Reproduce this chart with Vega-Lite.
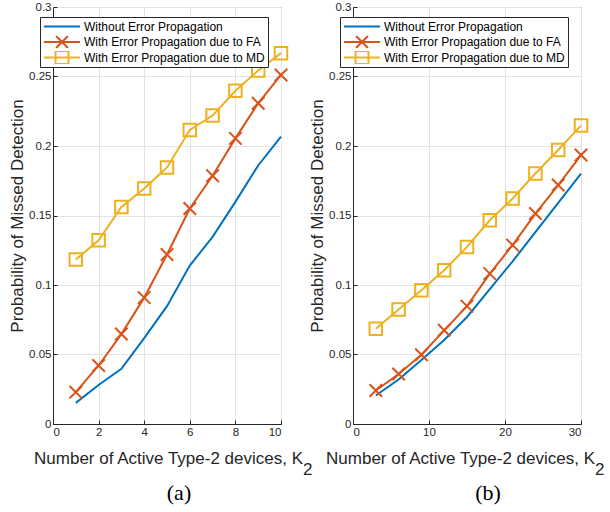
{
  "$schema": "https://vega.github.io/schema/vega-lite/v6.json",
  "padding": {"left": 8, "top": 0, "right": 0, "bottom": 0},
  "background": "white",
  "spacing": 72,
  "bounds": "flush",
  "datasets": {
    "pts": [
      {"panel": "a", "k": 1, "p": 0.0152, "series": "Without Error Propagation"},
      {"panel": "a", "k": 2, "p": 0.0281, "series": "Without Error Propagation"},
      {"panel": "a", "k": 3, "p": 0.0397, "series": "Without Error Propagation"},
      {"panel": "a", "k": 4, "p": 0.0618, "series": "Without Error Propagation"},
      {"panel": "a", "k": 5, "p": 0.0848, "series": "Without Error Propagation"},
      {"panel": "a", "k": 6, "p": 0.114, "series": "Without Error Propagation"},
      {"panel": "a", "k": 7, "p": 0.1346, "series": "Without Error Propagation"},
      {"panel": "a", "k": 8, "p": 0.1598, "series": "Without Error Propagation"},
      {"panel": "a", "k": 9, "p": 0.186, "series": "Without Error Propagation"},
      {"panel": "a", "k": 10, "p": 0.2067, "series": "Without Error Propagation"},
      {"panel": "a", "k": 1, "p": 0.0229, "series": "With Error Propagation due to FA"},
      {"panel": "a", "k": 2, "p": 0.0421, "series": "With Error Propagation due to FA"},
      {"panel": "a", "k": 3, "p": 0.0647, "series": "With Error Propagation due to FA"},
      {"panel": "a", "k": 4, "p": 0.0909, "series": "With Error Propagation due to FA"},
      {"panel": "a", "k": 5, "p": 0.1219, "series": "With Error Propagation due to FA"},
      {"panel": "a", "k": 6, "p": 0.155, "series": "With Error Propagation due to FA"},
      {"panel": "a", "k": 7, "p": 0.1786, "series": "With Error Propagation due to FA"},
      {"panel": "a", "k": 8, "p": 0.2055, "series": "With Error Propagation due to FA"},
      {"panel": "a", "k": 9, "p": 0.2307, "series": "With Error Propagation due to FA"},
      {"panel": "a", "k": 10, "p": 0.2511, "series": "With Error Propagation due to FA"},
      {"panel": "a", "k": 1, "p": 0.1183, "series": "With Error Propagation due to MD"},
      {"panel": "a", "k": 2, "p": 0.1322, "series": "With Error Propagation due to MD"},
      {"panel": "a", "k": 3, "p": 0.1562, "series": "With Error Propagation due to MD"},
      {"panel": "a", "k": 4, "p": 0.1694, "series": "With Error Propagation due to MD"},
      {"panel": "a", "k": 5, "p": 0.1846, "series": "With Error Propagation due to MD"},
      {"panel": "a", "k": 6, "p": 0.2115, "series": "With Error Propagation due to MD"},
      {"panel": "a", "k": 7, "p": 0.2219, "series": "With Error Propagation due to MD"},
      {"panel": "a", "k": 8, "p": 0.2397, "series": "With Error Propagation due to MD"},
      {"panel": "a", "k": 9, "p": 0.2543, "series": "With Error Propagation due to MD"},
      {"panel": "a", "k": 10, "p": 0.2668, "series": "With Error Propagation due to MD"},
      {"panel": "b", "k": 3, "p": 0.0205, "series": "Without Error Propagation"},
      {"panel": "b", "k": 6, "p": 0.032, "series": "Without Error Propagation"},
      {"panel": "b", "k": 9, "p": 0.046, "series": "Without Error Propagation"},
      {"panel": "b", "k": 12, "p": 0.0605, "series": "Without Error Propagation"},
      {"panel": "b", "k": 15, "p": 0.077, "series": "Without Error Propagation"},
      {"panel": "b", "k": 18, "p": 0.097, "series": "Without Error Propagation"},
      {"panel": "b", "k": 21, "p": 0.117, "series": "Without Error Propagation"},
      {"panel": "b", "k": 24, "p": 0.138, "series": "Without Error Propagation"},
      {"panel": "b", "k": 27, "p": 0.159, "series": "Without Error Propagation"},
      {"panel": "b", "k": 30, "p": 0.1802, "series": "Without Error Propagation"},
      {"panel": "b", "k": 3, "p": 0.0241, "series": "With Error Propagation due to FA"},
      {"panel": "b", "k": 6, "p": 0.036, "series": "With Error Propagation due to FA"},
      {"panel": "b", "k": 9, "p": 0.0498, "series": "With Error Propagation due to FA"},
      {"panel": "b", "k": 12, "p": 0.0674, "series": "With Error Propagation due to FA"},
      {"panel": "b", "k": 15, "p": 0.0848, "series": "With Error Propagation due to FA"},
      {"panel": "b", "k": 18, "p": 0.1082, "series": "With Error Propagation due to FA"},
      {"panel": "b", "k": 21, "p": 0.1287, "series": "With Error Propagation due to FA"},
      {"panel": "b", "k": 24, "p": 0.1514, "series": "With Error Propagation due to FA"},
      {"panel": "b", "k": 27, "p": 0.1719, "series": "With Error Propagation due to FA"},
      {"panel": "b", "k": 30, "p": 0.1935, "series": "With Error Propagation due to FA"},
      {"panel": "b", "k": 3, "p": 0.0685, "series": "With Error Propagation due to MD"},
      {"panel": "b", "k": 6, "p": 0.0824, "series": "With Error Propagation due to MD"},
      {"panel": "b", "k": 9, "p": 0.0962, "series": "With Error Propagation due to MD"},
      {"panel": "b", "k": 12, "p": 0.1106, "series": "With Error Propagation due to MD"},
      {"panel": "b", "k": 15, "p": 0.1274, "series": "With Error Propagation due to MD"},
      {"panel": "b", "k": 18, "p": 0.1466, "series": "With Error Propagation due to MD"},
      {"panel": "b", "k": 21, "p": 0.1622, "series": "With Error Propagation due to MD"},
      {"panel": "b", "k": 24, "p": 0.1802, "series": "With Error Propagation due to MD"},
      {"panel": "b", "k": 27, "p": 0.1971, "series": "With Error Propagation due to MD"},
      {"panel": "b", "k": 30, "p": 0.2147, "series": "With Error Propagation due to MD"}
    ]
  },
  "data": {"name": "pts"},
  "resolve": {"legend": {"color": "independent"}, "scale": {"x": "independent"}},
  "hconcat": [
    {
      "width": 228,
      "height": 417,
      "transform": [{"filter": "datum.panel == 'a'"}],
      "title": {"text": "(a)", "orient": "bottom", "font": "Liberation Serif", "fontSize": 22, "fontWeight": "normal", "color": "black", "dx": 12, "offset": 6},
      "layer": [
        {
          "mark": {"type": "line", "strokeWidth": 2},
          "encoding": {
            "x": {"field": "k", "type": "quantitative", "scale": {"domain": [0, 10], "nice": false},
              "axis": {"values": [0, 2, 4, 6, 8, 10], "title": ["Number of Active Type-2 devices, K\u00a0\u00a0\u200b", "2"], "titleAlign": "right", "titleX": 259, "titleY": 39, "titleBaseline": "alphabetic", "titleLineHeight": 11}},
            "y": {"field": "p", "type": "quantitative", "scale": {"domain": [0, 0.3], "nice": false},
              "axis": {"values": [0, 0.05, 0.1, 0.15, 0.2, 0.25, 0.3], "format": "~g", "title": "Probability of Missed Detection"}},
            "color": {"field": "series", "type": "nominal",
              "scale": {"domain": ["Without Error Propagation", "With Error Propagation due to FA", "With Error Propagation due to MD"], "range": ["#0072BD", "#D95319", "#EDB120"]},
              "legend": {
                "title": null, "orient": "none", "legendX": -13, "legendY": 10,
                "labelExpr": "datum.label + '\u00a0\u00a0\u00a0'",
                "encode": {"symbols": {"update": {
                  "shape": {"signal": "datum.value == 'With Error Propagation due to FA' ? 'M-1,0H1M-0.33,-0.33L0.33,0.33M-0.33,0.33L0.33,-0.33' : datum.value == 'With Error Propagation due to MD' ? 'M-1,0H1M-0.36,-0.36H0.36V0.36H-0.36Z' : 'M-1,0H1'"},
                  "stroke": {"signal": "datum.value == 'With Error Propagation due to FA' ? '#D95319' : datum.value == 'With Error Propagation due to MD' ? '#EDB120' : '#0072BD'"},
                  "fill": {"value": "transparent"},
                  "strokeWidth": {"value": 2},
                  "opacity": {"value": 1}
                }}}
              }}
          }
        },
        {
          "transform": [{"filter": "datum.series != 'Without Error Propagation'"}],
          "mark": {"type": "point", "filled": false, "strokeWidth": 2, "opacity": 1, "size": 156},
          "encoding": {
            "x": {"field": "k", "type": "quantitative"},
            "y": {"field": "p", "type": "quantitative"},
            "color": {"field": "series", "type": "nominal"},
            "shape": {"field": "series", "type": "nominal", "legend": null,
              "scale": {"domain": ["With Error Propagation due to FA", "With Error Propagation due to MD"], "range": ["M-1,-1L1,1M-1,1L1,-1", "M-1,-1H1V1H-1Z"]}}
          }
        }
      ]
    },
    {
      "width": 228,
      "height": 417,
      "transform": [{"filter": "datum.panel == 'b'"}],
      "title": {"text": "(b)", "orient": "bottom", "font": "Liberation Serif", "fontSize": 22, "fontWeight": "normal", "color": "black", "dx": 21, "offset": 6},
      "layer": [
        {
          "mark": {"type": "line", "strokeWidth": 2},
          "encoding": {
            "x": {"field": "k", "type": "quantitative", "scale": {"domain": [0, 30], "nice": false},
              "axis": {"values": [0, 10, 20, 30], "title": ["Number of Active Type-2 devices, K\u00a0\u00a0\u200b", "2"], "titleAlign": "right", "titleX": 251, "titleY": 39, "titleBaseline": "alphabetic", "titleLineHeight": 11}},
            "y": {"field": "p", "type": "quantitative", "scale": {"domain": [0, 0.3], "nice": false},
              "axis": {"values": [0, 0.05, 0.1, 0.15, 0.2, 0.25, 0.3], "format": "~g", "title": "Probability of Missed Detection"}},
            "color": {"field": "series", "type": "nominal",
              "scale": {"domain": ["Without Error Propagation", "With Error Propagation due to FA", "With Error Propagation due to MD"], "range": ["#0072BD", "#D95319", "#EDB120"]},
              "legend": {
                "title": null, "orient": "none", "legendX": -13, "legendY": 10,
                "labelExpr": "datum.label + '\u00a0\u00a0\u00a0'",
                "encode": {"symbols": {"update": {
                  "shape": {"signal": "datum.value == 'With Error Propagation due to FA' ? 'M-1,0H1M-0.33,-0.33L0.33,0.33M-0.33,0.33L0.33,-0.33' : datum.value == 'With Error Propagation due to MD' ? 'M-1,0H1M-0.36,-0.36H0.36V0.36H-0.36Z' : 'M-1,0H1'"},
                  "stroke": {"signal": "datum.value == 'With Error Propagation due to FA' ? '#D95319' : datum.value == 'With Error Propagation due to MD' ? '#EDB120' : '#0072BD'"},
                  "fill": {"value": "transparent"},
                  "strokeWidth": {"value": 2},
                  "opacity": {"value": 1}
                }}}
              }}
          }
        },
        {
          "transform": [{"filter": "datum.series != 'Without Error Propagation'"}],
          "mark": {"type": "point", "filled": false, "strokeWidth": 2, "opacity": 1, "size": 156},
          "encoding": {
            "x": {"field": "k", "type": "quantitative"},
            "y": {"field": "p", "type": "quantitative"},
            "color": {"field": "series", "type": "nominal"},
            "shape": {"field": "series", "type": "nominal", "legend": null,
              "scale": {"domain": ["With Error Propagation due to FA", "With Error Propagation due to MD"], "range": ["M-1,-1L1,1M-1,1L1,-1", "M-1,-1H1V1H-1Z"]}}
          }
        }
      ]
    }
  ],
  "config": {
    "font": "Liberation Sans",
    "view": {"stroke": "#262626", "strokeWidth": 1},
    "axis": {
      "labelFont": "Liberation Sans", "labelFontSize": 11.5, "labelColor": "#262626",
      "titleFont": "Liberation Sans", "titleFontSize": 17, "titleFontWeight": "normal", "titleColor": "#262626",
      "domainColor": "#262626", "tickColor": "#262626", "gridColor": "#e3e3e3",
      "tickSize": -4, "labelPadding": 6
    },
    "axisY": {"titlePadding": 2},
    "legend": {
      "labelFont": "Liberation Sans", "labelFontSize": 12, "labelColor": "black",
      "strokeColor": "#262626", "fillColor": "white", "padding": 3, "cornerRadius": 0,
      "symbolSize": 1296, "clipHeight": 13, "rowPadding": 2.5, "labelOffset": 3,
      "symbolOffset": 0, "symbolStrokeWidth": 2, "labelLimit": 300
    }
  }
}
